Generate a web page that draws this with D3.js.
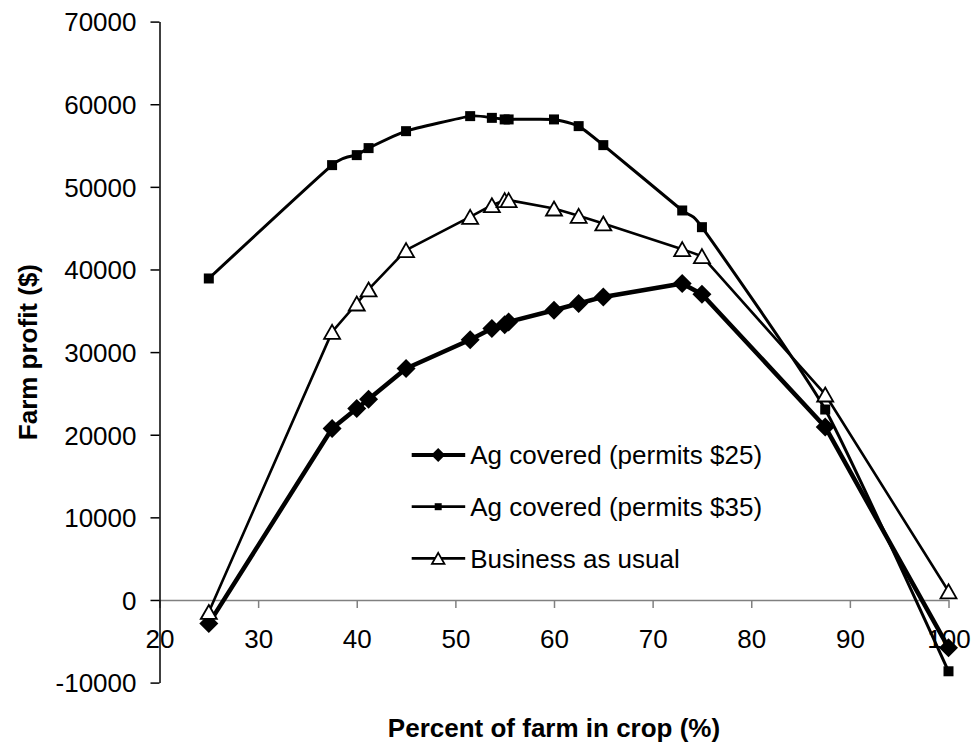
<!DOCTYPE html>
<html>
<head>
<meta charset="utf-8">
<script src="https://cdn.jsdelivr.net/npm/d3@7"></script>
<style>
  html, body { margin: 0; padding: 0; background: #fff; }
  svg { display: block; font-family: "Liberation Sans", Arial, sans-serif; }
</style>
</head>
<body>
<svg id="chart" width="973" height="744"></svg>
<script>
// ---- data ----
const percentCrop = [25, 37.5, 40, 41.2, 45, 51.5, 53.7, 55, 55.4, 60, 62.5, 65, 73, 75, 87.5, 100];
const permits25   = [-2860, 20750, 23170, 24300, 28010, 31500, 32860, 33300, 33650, 35070, 35880, 36680, 38300, 37010, 20940, -5770];
const permits35   = [38910, 52630, 53840, 54690, 56740, 58560, 58350, 58160, 58160, 58160, 57350, 55050, 47140, 45120, 23050, -8630];
const businessAsUsual = [-1450, 32450, 35880, 37580, 42340, 46370, 47780, 48390, 48390, 47380, 46490, 45570, 42460, 41610, 24870, 1050];
const seriesNames = ["Ag covered (permits $25)", "Ag covered (permits $35)", "Business as usual"];
const xTicks = [20, 30, 40, 50, 60, 70, 80, 90, 100];
const yTicks = [-10000, 0, 10000, 20000, 30000, 40000, 50000, 60000, 70000];
const xTitle = "Percent of farm in crop (%)";
const yTitle = "Farm profit ($)";

// ---- layout ----
const svg = d3.select("#chart");
const x = d3.scaleLinear().domain([20, 100]).range([159.5, 948.5]);
const y = d3.scaleLinear().domain([-10000, 70000]).range([682.6, 21.6]);
const FONT = 26;
const fmt = d => String(d); // plain hyphen-minus like the reference

// marker path builders
function diamondPath(r) { return `M0,${-r}L${r},0L0,${r}L${-r},0Z`; }
function squarePath(s) { const h = s / 2; return `M${-h},${-h}H${h}V${h}H${-h}Z`; }
function trianglePath(w, h) { return `M0,${-h/2}L${w/2},${h/2}L${-w/2},${h/2}Z`; }

const series = [
  { name: seriesNames[0], values: permits25, width: 4.5, curve: d3.curveLinear,
    marker: diamondPath(9.5), legendMarker: diamondPath(7), fill: "#000", mStroke: "none", mStrokeW: 0 },
  { name: seriesNames[1], values: permits35, width: 3, curve: d3.curveCardinal.tension(0.5),
    marker: squarePath(10), legendMarker: squarePath(7), fill: "#000", mStroke: "none", mStrokeW: 0 },
  { name: seriesNames[2], values: businessAsUsual, width: 2.6, curve: d3.curveLinear,
    marker: trianglePath(16, 14), legendMarker: trianglePath(12.5, 11), fill: "#fff", mStroke: "#000", mStrokeW: 1.8 }
];

// ---- axes ----
const xAxis = svg.append("g")
  .attr("transform", `translate(0,${y(0)})`)
  .call(d3.axisBottom(x).tickValues(xTicks).tickSize(8).tickSizeOuter(0).tickFormat(fmt));
xAxis.select(".domain").attr("stroke", "#808080").attr("stroke-width", 1.5);
xAxis.selectAll(".tick line").attr("stroke", "#808080").attr("stroke-width", 1.5);
xAxis.selectAll(".tick text")
  .attr("y", 48).attr("dy", 0)
  .attr("font-size", FONT).attr("font-family", "Liberation Sans, Arial, sans-serif").attr("fill", "#000");

const yAxis = svg.append("g")
  .attr("transform", `translate(${x(20)},0)`)
  .call(d3.axisLeft(y).tickValues(yTicks).tickSize(9).tickSizeOuter(0).tickPadding(14).tickFormat(fmt));
yAxis.select(".domain").attr("stroke", "#000").attr("stroke-width", 1.5);
yAxis.selectAll(".tick line").attr("stroke", "#000").attr("stroke-width", 1.5);
yAxis.selectAll(".tick text")
  .attr("dy", "0.36em")
  .attr("font-size", FONT).attr("font-family", "Liberation Sans, Arial, sans-serif").attr("fill", "#000");

// ---- series ----
series.forEach(s => {
  const pts = percentCrop.map((p, i) => [p, s.values[i]]);
  const line = d3.line().x(d => x(d[0])).y(d => y(d[1])).curve(s.curve);
  const g = svg.append("g");
  g.append("path")
    .attr("d", line(pts))
    .attr("fill", "none")
    .attr("stroke", "#000")
    .attr("stroke-width", s.width)
    .attr("stroke-linejoin", "round");
  g.selectAll("path.mk").data(pts).join("path")
    .attr("class", "mk")
    .attr("d", s.marker)
    .attr("transform", d => `translate(${x(d[0])},${y(d[1])})`)
    .attr("fill", s.fill)
    .attr("stroke", s.mStroke)
    .attr("stroke-width", s.mStrokeW);
});

// ---- legend ----
const legend = svg.append("g").attr("transform", "translate(411.7,455)");
series.forEach((s, i) => {
  const row = legend.append("g").attr("transform", `translate(0,${i * 51.7})`);
  row.append("line").attr("x1", 0).attr("x2", 53.5).attr("y1", 0).attr("y2", 0)
    .attr("stroke", "#000").attr("stroke-width", i === 0 ? 4 : 2.8);
  row.append("path").attr("d", s.legendMarker)
    .attr("transform", "translate(26.5,0)")
    .attr("fill", s.fill).attr("stroke", s.mStroke).attr("stroke-width", s.mStrokeW);
  row.append("text").attr("x", 58.5).attr("y", 9.3)
    .attr("font-size", FONT).attr("fill", "#000").text(s.name);
});

// ---- axis titles ----
svg.append("text")
  .attr("x", (x(20) + x(100)) / 2).attr("y", 737)
  .attr("text-anchor", "middle").attr("font-weight", "bold").attr("font-size", FONT)
  .text(xTitle);
svg.append("text")
  .attr("transform", `translate(37,${(y(70000) + y(-10000)) / 2}) rotate(-90)`)
  .attr("text-anchor", "middle").attr("font-weight", "bold").attr("font-size", FONT)
  .text(yTitle);
</script>
</body>
</html>
